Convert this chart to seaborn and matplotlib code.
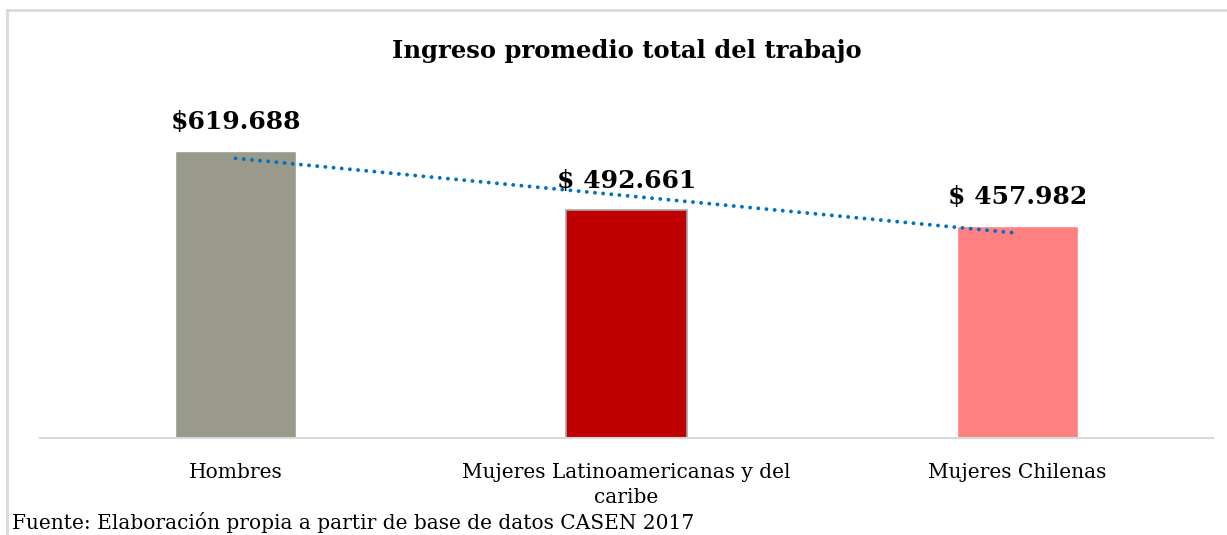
import numpy as np
import pandas as pd
import matplotlib
matplotlib.use("Agg")
import matplotlib.pyplot as plt
import seaborn as sns
from matplotlib.lines import Line2D

# data
categorias = ["Hombres", "Mujeres Latinoamericanas y del\ncaribe", "Mujeres Chilenas"]
ingresos = [619688, 492661, 457982]
etiquetas = ["$619.688", "$ 492.661", "$ 457.982"]
colores = ["#999A8C", "#C00000", "#FF8080"]

sns.set_theme(style="white")
plt.rcParams["font.family"] = ["DejaVu Serif"]
plt.rcParams["text.color"] = "black"
plt.rcParams["xtick.color"] = "black"

df = pd.DataFrame({"cat": categorias, "valor": ingresos})

fig = plt.figure(figsize=(12.27, 5.35), dpi=100)
ax = fig.add_axes([0.0326, 0.1813, 0.956, 0.6056])

sns.barplot(data=df, x="cat", y="valor", hue="cat", palette=colores,
            width=0.31, legend=False, ax=ax, saturation=1)
ax.patches[1].set_edgecolor("#A6A6A6")
ax.patches[1].set_linewidth(1.2)

# linear trend line (dotted), like excel
xs = np.arange(len(ingresos))
m, b = np.polyfit(xs, ingresos, 1)
ax.plot(xs, m * xs + b, linestyle=(0, (0.01, 2.1)), color="#0070C0",
        linewidth=2.8, dash_capstyle="round")

for i, (v, t) in enumerate(zip(ingresos, etiquetas)):
    ax.annotate(t, (i, v), xytext=(0, 21), textcoords="offset points",
                ha="center", va="center", fontsize=18, fontweight="bold")

ax.set_ylim(0, 700000)
ax.set_xlim(-0.5, 2.5)
ax.set_xlabel("")
ax.set_ylabel("")
ax.set_yticks([])
ax.tick_params(axis="x", labelsize=14.5, pad=18, length=0, labelcolor="black")
for lab in ax.get_xticklabels():
    lab.set_linespacing(1.4)
for s in ["top", "right", "left"]:
    ax.spines[s].set_visible(False)
ax.spines["bottom"].set_color("#D9D9D9")
ax.spines["bottom"].set_linewidth(1.5)

fig.text(0.511, 0.905, "Ingreso promedio total del trabajo",
         ha="center", va="center", fontsize=17.5, fontweight="bold")

fig.text(0.010, 0.004, "Fuente: Elaboración propia a partir de base de datos CASEN 2017",
         ha="left", va="bottom", fontsize=14.5)

# chart border
fig.add_artist(Line2D([7 / 1227, 1.0], [1 - 10 / 535, 1 - 10 / 535],
                      transform=fig.transFigure, color="#D9D9D9", linewidth=2))
fig.add_artist(Line2D([7 / 1227, 7 / 1227], [0.0, 1 - 10 / 535],
                      transform=fig.transFigure, color="#D9D9D9", linewidth=2))

fig.savefig("out.png", dpi=100)
